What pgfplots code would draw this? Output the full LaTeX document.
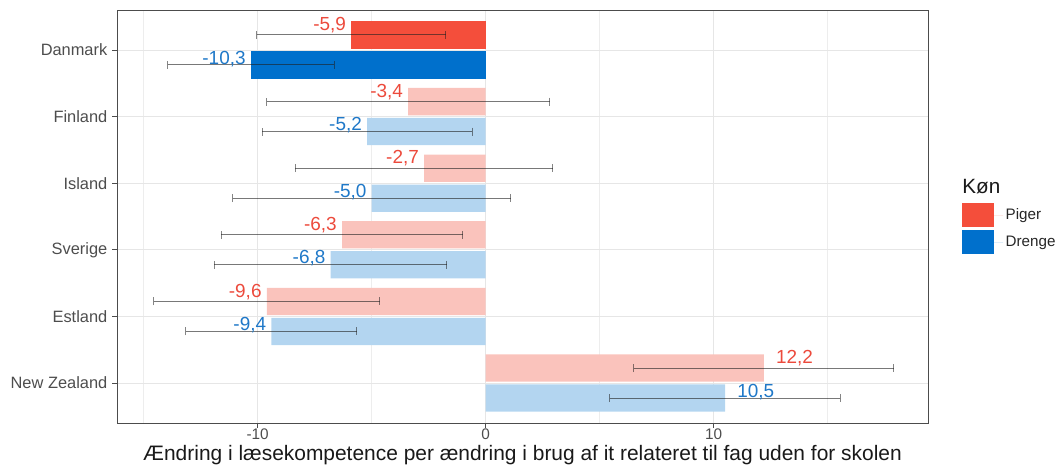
\documentclass[border=0pt]{standalone}
\usepackage{fontspec}
\setmainfont{Liberation Sans}
\usepackage{pgfplots}
\pgfplotsset{compat=1.18}
\definecolor{pigerD}{HTML}{F44E3B}
\definecolor{drengeD}{HTML}{0070CC}
\definecolor{pigerL}{HTML}{FAC3BC}
\definecolor{drengeL}{HTML}{B3D5F0}
\definecolor{pigerT}{HTML}{EC4A3C}
\definecolor{drengeT}{HTML}{1F78C8}
\definecolor{gridc}{HTML}{E6E6E6}
\definecolor{tickt}{HTML}{4D4D4D}
\definecolor{errc}{HTML}{202020}
\pgfplotsset{
  myerr/.style={
    error bars/x dir=both, error bars/x explicit,
    error bars/error bar style={errc, draw opacity=0.55, line width=0.75pt},
    error bars/error mark options={errc, draw opacity=0.55, line width=0.75pt, mark size=3pt, rotate=90},
  },
  mybar/.style={xbar, bar width=0.41, bar shift=0, draw=none, fill=#1, myerr},
}
\begin{document}
\begin{tikzpicture}
\useasboundingbox (0,0) rectangle (796.5pt,350.25pt);
\begin{axis}[
  at={(87.75pt,33pt)}, anchor=south west,
  scale only axis, width=608.25pt, height=309.75pt,
  clip=false,
  xmin=-16.17, xmax=19.4,
  ymin=-0.6, ymax=5.6, y dir=reverse,
  xtick={-10,0,10}, xticklabels={-10,0,10},
  minor xtick={-15,-5,5,15},
  ytick={0,1,2,3,4,5},
  yticklabels={Danmark,Finland,Island,Sverige,Estland,New Zealand},
  xmajorgrids, xminorgrids, ymajorgrids,
  major grid style={gridc, line width=0.7pt},
  minor grid style={gridc!70, line width=0.5pt},
  tick align=outside, xtick pos=bottom, ytick pos=left,
  major tick length=3.75pt, minor tick length=0pt,
  tick style={black!70, line width=0.6pt},
  axis line style={black!70, line width=0.6pt},
  yticklabel style={font=\fontsize{12.3}{15}\selectfont, text=tickt},
  xticklabel style={font=\fontsize{11.5}{14}\selectfont, text=tickt, anchor=base, yshift=-8.25pt},
  xlabel={Ændring i læsekompetence per ændring i brug af it relateret til fag uden for skolen},
  xlabel style={at={(axis description cs:0.5,0)}, anchor=base, yshift=-27.75pt, font=\fontsize{15.7}{18}\selectfont, text=black!90},
  legend style={at={(axis description cs:1.042,0.533)}, anchor=north west, draw=none, fill=none, inner sep=0pt, row sep=2.25pt, font=\fontsize{11.4}{13}\selectfont, text=black!85},
  legend cell align=left,
  legend image code/.code={\fill (0pt,-9pt) rectangle (23.7pt,9pt); \path (23.7pt,0pt) -- (30.5pt,0pt);},
]
% Danmark highlighted
\addplot[mybar=pigerD]
  coordinates {(-5.9,-0.225) +- (4.15,0)};
\addlegendentry{Piger}
\addplot[mybar=drengeD]
  coordinates {(-10.3,0.225) +- (3.65,0)};
\addlegendentry{Drenge}
% Others faded
\addplot[mybar=pigerL, forget plot]
  coordinates {
  (-3.4,0.775) +- (6.2,0)
  (-2.7,1.775) +- (5.65,0)
  (-6.3,2.775) +- (5.3,0)
  (-9.6,3.775) +- (4.95,0)
  (12.2,4.775) +- (5.7,0)
  };
\addplot[mybar=drengeL, forget plot]
  coordinates {
  (-5.2,1.225) +- (4.6,0)
  (-5.0,2.225) +- (6.1,0)
  (-6.8,3.225) +- (5.1,0)
  (-9.4,4.225) +- (3.75,0)
  (10.5,5.225) +- (5.06,0)
  };
% value labels
\addplot[draw=none, mark=none, forget plot, nodes near coords, point meta=explicit symbolic,
  nodes near coords style={anchor=east, inner sep=0pt, xshift=-3.75pt, text=pigerT, font=\fontsize{14.2}{16}\selectfont}]
  coordinates {(-5.9,-0.37) [{-5,9}] (-3.4,0.63) [{-3,4}] (-2.7,1.63) [{-2,7}] (-6.3,2.63) [{-6,3}] (-9.6,3.63) [{-9,6}]};
\addplot[draw=none, mark=none, forget plot, nodes near coords, point meta=explicit symbolic,
  nodes near coords style={anchor=east, inner sep=0pt, xshift=-3.75pt, text=drengeT, font=\fontsize{14.2}{16}\selectfont}]
  coordinates {(-10.3,0.13) [{-10,3}] (-5.2,1.13) [{-5,2}] (-5.0,2.13) [{-5,0}] (-6.8,3.13) [{-6,8}] (-9.4,4.13) [{-9,4}]};
\addplot[draw=none, mark=none, forget plot, nodes near coords, point meta=explicit symbolic,
  nodes near coords style={anchor=west, inner sep=0pt, xshift=9pt, text=pigerT, font=\fontsize{14.2}{16}\selectfont}]
  coordinates {(12.2,4.63) [{12,2}]};
\addplot[draw=none, mark=none, forget plot, nodes near coords, point meta=explicit symbolic,
  nodes near coords style={anchor=west, inner sep=0pt, xshift=9pt, text=drengeT, font=\fontsize{14.2}{16}\selectfont}]
  coordinates {(10.5,5.13) [{10,5}]};
\node[anchor=west, inner sep=0pt, font=\fontsize{15.5}{18}\selectfont, text=black!90] at (axis description cs:1.042,0.572) {Køn};
\end{axis}
\end{tikzpicture}
\end{document}
